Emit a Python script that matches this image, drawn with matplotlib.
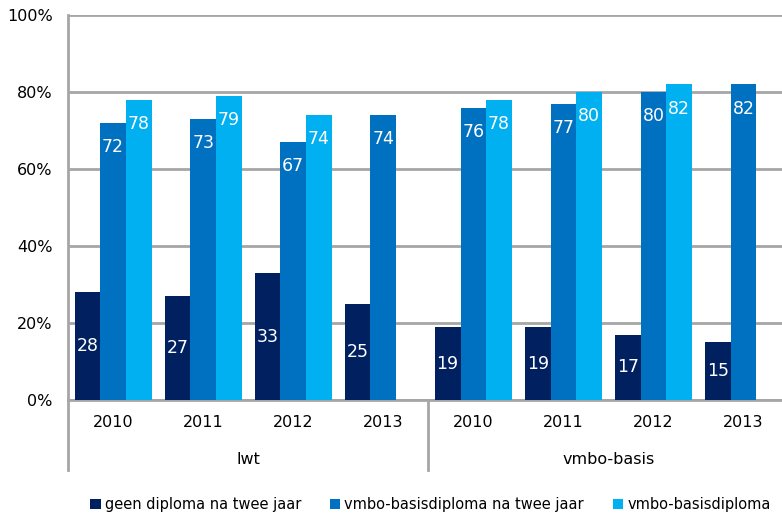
import numpy as np
import matplotlib.pyplot as plt
from matplotlib.transforms import blended_transform_factory

# Data
years = ["2010", "2011", "2012", "2013", "2010", "2011", "2012", "2013"]
groups = ["lwt", "vmbo-basis"]
geen_diploma = [28, 27, 33, 25, 19, 19, 17, 15]
basis_twee_jaar = [72, 73, 67, 74, 76, 77, 80, 82]
basis_diploma = [78, 79, 74, np.nan, 78, 80, 82, np.nan]

series_names = ["geen diploma na twee jaar", "vmbo-basisdiploma na twee jaar", "vmbo-basisdiploma"]
colors = ["#002060", "#0070C0", "#00B0F0"]
grid_color = "#A6A6A6"

fig = plt.figure(figsize=(7.82, 5.21), dpi=100)
ax = fig.add_axes([0.087, 0.232, 0.9214, 0.739])

x = np.arange(len(years))
width = 0.285
all_series = [geen_diploma, basis_twee_jaar, basis_diploma]

for i, (vals, col, name) in enumerate(zip(all_series, colors, series_names)):
    pos = x + (i - 1) * width
    bars = ax.bar(pos, vals, width, color=col, label=name, zorder=3)
    for b, v in zip(bars, vals):
        if np.isnan(v):
            continue
        if i == 0:
            # dark series labelled in the middle of the bar
            ypos = v / 2
        else:
            # the other two just under the top
            ypos = v - 6.3
        ax.text(b.get_x() + b.get_width() / 2, ypos, f"{v:.0f}", ha="center", va="center",
                color="white", fontsize=12.5, zorder=4)

ax.set_xlim(-0.5, len(years) - 0.5)
ax.set_ylim(0, 100)
ax.set_yticks(np.arange(0, 101, 20))
ax.set_yticklabels([f"{v}%" for v in range(0, 101, 20)], fontsize=11.5)
ax.set_xticks([])
ax.tick_params(axis="y", length=0, pad=11)

ax.grid(axis="y", color=grid_color, linewidth=2, zorder=0)
for side in ["top", "right"]:
    ax.spines[side].set_visible(False)
for side in ["left", "bottom"]:
    ax.spines[side].set_color(grid_color)
    ax.spines[side].set_linewidth(2)

# category labels under the axis
trans = blended_transform_factory(ax.transData, ax.transAxes)
for xi, yr in zip(x, years):
    ax.text(xi, -0.058, yr, transform=trans, ha="center", va="center", fontsize=11.5)
for gi, g in enumerate(groups):
    ax.text(gi * 4 + 1.5, -0.155, g, transform=trans, ha="center", va="center", fontsize=11.5)

# separator lines of the category axis
for xs in [-0.5, 3.5]:
    ax.plot([xs, xs], [0, -0.182], transform=trans, color=grid_color, linewidth=2, clip_on=False)

fig.legend(loc="lower center", bbox_to_anchor=(0.5505, -0.008), ncol=3, frameon=False, fontsize=10.5,
           handlelength=0.7, handleheight=0.7, handletextpad=0.3, columnspacing=1.95)

plt.savefig("out.png", dpi=100)
